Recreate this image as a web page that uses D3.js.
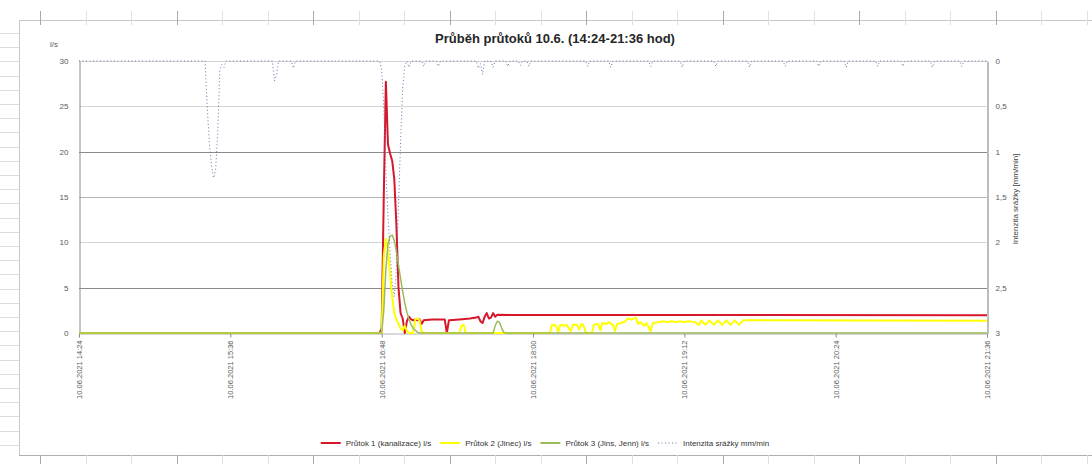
<!DOCTYPE html>
<html>
<head>
<meta charset="utf-8">
<script src="https://cdn.jsdelivr.net/npm/d3@7"></script>
<style>
  body { margin: 0; background: #fff; }
  svg { display: block; font-family: "Liberation Sans", Arial, sans-serif; }
</style>
</head>
<body>
<svg id="chart" width="1092" height="464"></svg>
<script>
// all times are hh:mm on 10.06.2021
const xTicks = ['14:24', '15:36', '16:48', '18:00', '19:12', '20:24', '21:36'];
const leftTicks = [0, 5, 10, 15, 20, 25, 30];
const rightTicks = [0, 0.5, 1, 1.5, 2, 2.5, 3];

// Průtok 1 (kanalizace) l/s
const flow1 = [
    ['14:24', 0], ['16:47', 0], ['16:48', 0.5], ['16:49', 15], ['16:50', 27.7], ['16:51', 20.8],
    ['16:52', 19.8], ['16:53', 19], ['16:54', 17], ['16:55', 12], ['16:56', 5], ['16:57', 2.2],
    ['16:58', 1.6], ['16:59', 0], ['17:00', 1.3], ['17:01', 1.8], ['17:02', 1.5], ['17:03', 1.4],
    ['17:04', 1.5], ['17:05', 1.4], ['17:06', 1.5], ['17:07', 1.0], ['17:08', 1.4], ['17:12', 1.5],
    ['17:18', 1.5], ['17:19', 0], ['17:20', 1.4], ['17:25', 1.5], ['17:30', 1.6], ['17:33', 1.7],
    ['17:34', 1.8], ['17:35', 1.3], ['17:36', 1.1], ['17:37', 1.8], ['17:38', 2.2], ['17:39', 1.6],
    ['17:40', 1.7], ['17:41', 2.2], ['17:42', 1.8], ['17:43', 2.0], ['21:36', 1.95]
];

// Průtok 2 l/s
const flow2 = [
    ['14:24', 0], ['16:48', 0], ['16:49', 8.5], ['16:50', 10.4], ['16:51', 9.2], ['16:52', 6.5],
    ['16:53', 4], ['16:54', 2.2], ['16:55', 1.5], ['16:56', 1.0], ['16:57', 0.5], ['16:58', 0.3],
    ['16:59', 0.8], ['17:00', 0.2], ['17:01', 0], ['17:03', 0], ['17:04', 1.5], ['17:05', 1.6],
    ['17:06', 1.4], ['17:07', 0.2], ['17:08', 0], ['17:25', 0], ['17:26', 0.8], ['17:27', 0.9],
    ['17:28', 0], ['18:08', 0], ['18:09', 0.9], ['18:11', 0.8], ['18:12', 0.1], ['18:13', 0.9],
    ['18:15', 0.8], ['18:16', 0.9], ['18:18', 0.2], ['18:19', 0.9], ['18:21', 0.9], ['18:22', 0.4],
    ['18:23', 1.0], ['18:24', 0.9], ['18:25', 0.1], ['18:26', 0], ['18:28', 0], ['18:29', 0.9],
    ['18:31', 1.0], ['18:32', 0.3], ['18:33', 1.1], ['18:35', 1.0], ['18:36', 1.2], ['18:38', 0.9],
    ['18:39', 0.2], ['18:40', 1.0], ['18:42', 1.1], ['18:44', 1.3], ['18:45', 1.6], ['18:47', 1.5],
    ['18:49', 1.7], ['18:50', 1.0], ['18:51', 1.2], ['18:53', 0.8], ['18:54', 1.1], ['18:56', 0.2],
    ['18:57', 1.1], ['19:00', 1.2], ['19:02', 1.3], ['19:04', 1.2], ['19:06', 1.3], ['19:08', 1.2],
    ['19:10', 1.3], ['19:12', 1.2], ['19:14', 1.3], ['19:17', 1.2], ['19:19', 0.9], ['19:20', 1.4],
    ['19:22', 0.9], ['19:24', 1.4], ['19:26', 0.9], ['19:28', 1.4], ['19:30', 0.9], ['19:32', 1.4],
    ['19:34', 0.9], ['19:36', 1.4], ['19:38', 0.9], ['19:40', 1.4], ['21:36', 1.35]
];

// Průtok 3 l/s
const flow3 = [
    ['14:24', 0], ['16:48', 0], ['16:49', 2.5], ['16:50', 7], ['16:51', 9.8], ['16:52', 10.7],
    ['16:53', 10.8], ['16:54', 10.2], ['16:55', 9], ['16:56', 7.5], ['16:57', 6], ['16:58', 4.6],
    ['16:59', 3.3], ['17:00', 2.3], ['17:01', 1.5], ['17:02', 0.9], ['17:03', 0.5], ['17:04', 0.3],
    ['17:05', 0.1], ['17:06', 0], ['17:41', 0], ['17:42', 0.8], ['17:43', 1.3], ['17:44', 1.2],
    ['17:45', 0.6], ['17:46', 0.1], ['17:47', 0], ['21:36', 0]
];

// Intenzita srážky mm/min (right axis, reversed)
const rain = [
    ['14:24', 0], ['15:24', 0], ['15:25', 0.5], ['15:26', 0.9], ['15:27', 1.15], ['15:28', 1.29],
    ['15:29', 1.2], ['15:30', 0.8], ['15:31', 0.1], ['15:32', 0.04], ['15:33', 0.07], ['15:34', 0],
    ['15:56', 0], ['15:57', 0.22], ['15:58', 0.15], ['15:59', 0],
    ['16:05', 0], ['16:06', 0.08], ['16:07', 0],
    ['16:47', 0], ['16:48', 0.1], ['16:49', 0.5], ['16:50', 1.2], ['16:51', 1.7], ['16:52', 2.1],
    ['16:53', 2.45], ['16:54', 2.6], ['16:55', 2.3], ['16:56', 1.6], ['16:57', 0.9], ['16:58', 0.3],
    ['16:59', 0.05], ['17:00', 0], ['17:01', 0.07], ['17:02', 0],
    ['17:07', 0], ['17:08', 0.06], ['17:09', 0],
    ['17:14', 0], ['17:15', 0.06], ['17:16', 0],
    ['17:33', 0], ['17:34', 0.08], ['17:35', 0.03], ['17:36', 0.15], ['17:37', 0],
    ['17:40', 0], ['17:41', 0.07], ['17:42', 0],
    ['17:47', 0], ['17:48', 0.06], ['17:49', 0],
    ['17:53', 0], ['17:54', 0.05], ['17:55', 0],
    ['17:57', 0], ['17:58', 0.06], ['17:59', 0],
    ['18:25', 0], ['18:26', 0.06], ['18:27', 0],
    ['18:36', 0], ['18:37', 0.07], ['18:38', 0],
    ['18:55', 0], ['18:56', 0.06], ['18:57', 0],
    ['19:10', 0], ['19:11', 0.07], ['19:12', 0],
    ['19:26', 0], ['19:27', 0.06], ['19:28', 0],
    ['19:42', 0], ['19:43', 0.07], ['19:44', 0],
    ['19:59', 0], ['20:00', 0.06], ['20:01', 0],
    ['20:15', 0], ['20:16', 0.06], ['20:17', 0],
    ['20:28', 0], ['20:29', 0.07], ['20:30', 0],
    ['20:43', 0], ['20:44', 0.06], ['20:45', 0],
    ['20:55', 0], ['20:56', 0.06], ['20:57', 0],
    ['21:09', 0], ['21:10', 0.07], ['21:11', 0],
    ['21:23', 0], ['21:24', 0.06], ['21:25', 0],
    ['21:36', 0]
];

const seriesNames = [
    'Průtok 1 (kanalizace) l/s',
    'Průtok 2 (Jinec) l/s',
    'Průtok 3 (Jins, Jenn) l/s',
    'Intenzita srážky  mm/min'
];

const parseTime = d3.timeParse('%d.%m.%Y %H:%M');
const t = s => parseTime('10.06.2021 ' + s);

const svg = d3.select('#chart');
const W = 1092, H = 464;
const plot = { left: 79, right: 987, top: 61, bottom: 333 };

// worksheet frame behind the chart
const sheet = svg.append('g').attr('stroke', '#c8c8c8').attr('stroke-width', 1);
sheet.append('line').attr('x1', 19).attr('x2', W).attr('y1', 20.5).attr('y2', 20.5);
sheet.append('line').attr('x1', 19.5).attr('x2', 19.5).attr('y1', 20).attr('y2', 455);
sheet.append('line').attr('x1', 19).attr('x2', W).attr('y1', 455.5).attr('y2', 455.5).attr('stroke', '#b0b0b0');
sheet.selectAll('.ctop')
    .data(d3.range(40, W, 45.5))
    .join('line')
        .attr('x1', d => Math.round(d) + 0.5).attr('x2', d => Math.round(d) + 0.5)
        .attr('y1', 11).attr('y2', 25)
        .attr('stroke', (d, i) => i % 3 === 0 ? '#a8a8a8' : '#e0e0e0');
sheet.selectAll('.cbot')
    .data(d3.range(40, W, 45.5))
    .join('line')
        .attr('x1', d => Math.round(d) + 0.5).attr('x2', d => Math.round(d) + 0.5)
        .attr('y1', 455).attr('y2', 464)
        .attr('stroke', (d, i) => i % 3 === 0 ? '#a8a8a8' : '#e0e0e0');
sheet.selectAll('.rows')
    .data(d3.range(33, 455, 14.2))
    .join('line')
        .attr('x1', 0).attr('x2', 19)
        .attr('y1', d => Math.round(d) + 0.5).attr('y2', d => Math.round(d) + 0.5)
        .attr('stroke', '#dcdcdc');

// scales
const x = d3.scaleTime().domain([t('14:24'), t('21:36')]).range([plot.left, plot.right]);
const yL = d3.scaleLinear().domain([0, 30]).range([plot.bottom, plot.top]);
const yR = d3.scaleLinear().domain([0, 3]).range([plot.top, plot.bottom]);

// gridlines (some come out darker in the original)
const gridColor = v => (v === 5 || v === 20) ? '#8a8a8a' : (v === 15 ? '#b4b4b4' : '#d4d4d4');
svg.append('g')
    .selectAll('line')
    .data(leftTicks.filter(v => v > 0))
    .join('line')
        .attr('x1', plot.left).attr('x2', plot.right)
        .attr('y1', d => Math.round(yL(d)) + 0.5).attr('y2', d => Math.round(yL(d)) + 0.5)
        .attr('stroke', gridColor);

// left axis
const axisL = svg.append('g')
    .attr('transform', `translate(${plot.left + 0.5},0)`)
    .call(d3.axisLeft(yL).tickValues(leftTicks).tickSize(0).tickPadding(11));
axisL.select('.domain').attr('stroke', '#8c8c8c');
axisL.selectAll('text').attr('font-size', 8).attr('fill', '#595959');

// right axis
const commaFmt = v => String(v).replace('.', ',');
const axisR = svg.append('g')
    .attr('transform', `translate(${plot.right + 0.5},0)`)
    .call(d3.axisRight(yR).tickValues(rightTicks).tickFormat(commaFmt).tickSize(0).tickPadding(8));
axisR.select('.domain').attr('stroke', '#7a7a7a');
axisR.selectAll('text').attr('font-size', 8).attr('fill', '#595959');

// bottom axis
const timeFmt = d3.timeFormat('%d.%m.%Y %H:%M');
const axisB = svg.append('g')
    .attr('transform', `translate(0,${plot.bottom + 0.5})`)
    .call(d3.axisBottom(x).tickValues(xTicks.map(t)).tickFormat(timeFmt).tickSize(4).tickPadding(6));
axisB.select('.domain').attr('stroke', '#b0b0b0');
axisB.selectAll('line').attr('stroke', '#8c8c8c');
axisB.selectAll('text')
    .attr('font-size', 7.5)
    .attr('fill', '#595959')
    .attr('text-anchor', 'end')
    .attr('transform', 'rotate(-90)')
    .attr('x', -7)
    .attr('y', 0)
    .attr('dy', '0.32em');

// series lines
const lineL = d3.line().x(d => x(t(d[0]))).y(d => yL(d[1]));
const lineR = d3.line().x(d => x(t(d[0]))).y(d => yR(d[1]));

const lines = svg.append('g').attr('fill', 'none').attr('stroke-linejoin', 'round');
lines.append('path').datum(flow1).attr('d', lineL)
    .attr('stroke', '#d6172c').attr('stroke-width', 2);
lines.append('path').datum(flow2).attr('d', lineL)
    .attr('stroke', '#ffff00').attr('stroke-width', 2);
lines.append('path').datum(flow3).attr('d', lineL)
    .attr('stroke', '#9bbb59').attr('stroke-width', 1.5);
lines.append('path').datum(rain).attr('d', lineR)
    .attr('stroke', '#6575ab').attr('stroke-width', 1).attr('stroke-dasharray', '1,2.5');

// titles
svg.append('text')
    .attr('x', 555).attr('y', 43)
    .attr('text-anchor', 'middle')
    .attr('font-size', 13).attr('font-weight', 'bold').attr('fill', '#262626')
    .text('Průběh průtoků 10.6. (14:24-21:36 hod)');

svg.append('text')
    .attr('x', 50).attr('y', 47)
    .attr('font-size', 8).attr('fill', '#595959')
    .text('l/s');

svg.append('text')
    .attr('transform', 'translate(1018,199) rotate(-90)')
    .attr('text-anchor', 'middle')
    .attr('font-size', 8).attr('fill', '#404040')
    .text('Intenzita srážky [mm/min]');

// legend
const legendColors = ['#d6172c', '#ffff00', '#9bbb59', '#6575ab'];
const legend = svg.append('g');
let lx = 0;
seriesNames.forEach((name, i) => {
    const g = legend.append('g');
    g.append('line')
        .attr('x1', 0).attr('x2', 20).attr('y1', 0).attr('y2', 0)
        .attr('stroke', legendColors[i])
        .attr('stroke-width', i === 3 ? 1 : 2)
        .attr('stroke-dasharray', i === 3 ? '1,2.5' : null);
    const txt = g.append('text')
        .attr('x', 25).attr('y', 0).attr('dy', '0.33em')
        .attr('font-size', 8).attr('fill', '#333')
        .text(name);
    const w = 25 + txt.node().getComputedTextLength();
    g.attr('transform', `translate(${lx},0)`);
    lx += w + 9;
});
const legendWidth = lx - 9;
legend.attr('transform', `translate(${545 - legendWidth / 2},443)`);
</script>
</body>
</html>
